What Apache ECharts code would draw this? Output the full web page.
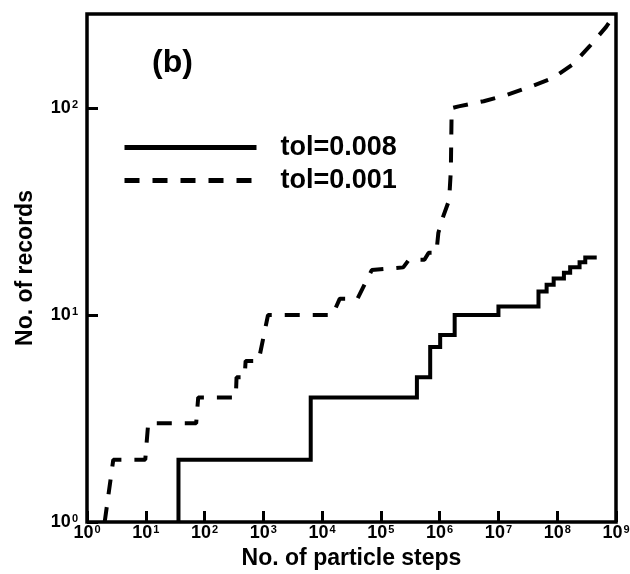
<!DOCTYPE html>
<html>
<head>
<meta charset="utf-8">
<script src="https://cdn.jsdelivr.net/npm/echarts@6/dist/echarts.min.js"></script>
<style>
html,body{margin:0;padding:0;background:#fff;}
#chart{width:630px;height:574px;}
</style>
</head>
<body>
<div id="chart"></div>
<script>
// Tick values (powers of ten)
const xTickValues = [1, 10, 100, 1e3, 1e4, 1e5, 1e6, 1e7, 1e8, 1e9];
const yTickValues = [1, 10, 100];

// Series names
const seriesNames = ['tol=0.008', 'tol=0.001'];

// tol=0.008 : record events [particle steps, no. of records] (step function)
const solidRecords = [
  [36, 1], [36, 2], [6400, 4], [4.1e5, 5], [6.9e5, 7], [1.02e6, 8], [1.8e6, 10],
  [1e7, 11], [4.8e7, 13], [6.6e7, 14], [8.7e7, 15], [1.3e8, 16], [1.66e8, 17],
  [2.4e8, 18], [3e8, 19], [4.7e8, 19]
];

// tol=0.001 : traced vertices [particle steps, no. of records]
const dashedTrace = [
  [2.0, 1], [2.8, 2], [9.8, 2], [11, 3], [72, 3], [78, 4], [340, 4], [350, 5],
  [480, 5], [500, 6], [830, 6], [1200, 10], [1.5e4, 10], [2e4, 12], [4e4, 12],
  [7e4, 16.5], [2.4e5, 17], [3e5, 18.5], [5.5e5, 18.5], [6.5e5, 20], [8.8e5, 20],
  [9.5e5, 25], [1.15e6, 30], [1.45e6, 36], [1.55e6, 50], [1.6e6, 100],
  [2.1e6, 102], [5.6e6, 108], [1.4e7, 116], [3.5e7, 127], [8.6e7, 140],
  [1.8e8, 162], [3.5e8, 198], [6.8e8, 247], [8.8e8, 275]
];

const FONT = '"Liberation Sans", Arial, Helvetica, sans-serif';
const dashPattern = [15, 13];

function powLabel(v) {
  const e = Math.round(Math.log10(v));
  return '{b|10}{s|' + e + '}';
}
const richLabel = {
  b: { fontSize: 18, fontWeight: 'bold', fontFamily: FONT, color: '#000' },
  s: { fontSize: 11, fontWeight: 'bold', fontFamily: FONT, color: '#000', verticalAlign: 'top', padding: [0, 0, 0, 1] }
};

const chart = echarts.init(document.getElementById('chart'), null, { renderer: 'canvas' });
chart.setOption({
  animation: false,
  backgroundColor: '#fff',
  title: {
    text: '(b)', left: 147, top: 42,
    textStyle: { fontSize: 32, fontWeight: 'bold', fontFamily: FONT, color: '#000' }
  },
  legend: {
    orient: 'vertical', left: 117, top: 129,
    itemWidth: 132, itemHeight: 22, itemGap: 6,
    itemStyle: { opacity: 0 },
    data: [
      { name: seriesNames[0], lineStyle: { width: 5, type: 'solid', color: '#000' } },
      { name: seriesNames[1], lineStyle: { width: 5, type: dashPattern, color: '#000' } }
    ],
    textStyle: { fontSize: 27, fontWeight: 'bold', fontFamily: FONT, color: '#000', padding: [0, 0, 0, 19] }
  },
  grid: {
    left: 87, right: 14, top: 14, bottom: 52,
    outerBoundsMode: 'none',
    show: true, borderColor: '#000', borderWidth: 3.5, backgroundColor: 'transparent'
  },
  xAxis: {
    type: 'log', logBase: 10, min: 1, max: 1e9,
    name: 'No. of particle steps', nameLocation: 'middle', nameGap: 25,
    nameTextStyle: { fontSize: 23, fontWeight: 'bold', fontFamily: FONT, color: '#000' },
    axisLine: { show: false },
    axisTick: { show: true, inside: true, length: 11, lineStyle: { color: '#000', width: 3 }, customValues: xTickValues },
    minorTick: { show: false },
    splitLine: { show: false },
    axisLabel: { margin: 2, formatter: powLabel, rich: richLabel, customValues: xTickValues, showMinLabel: true, showMaxLabel: true }
  },
  yAxis: {
    type: 'log', logBase: 10, min: 1, max: 285,
    name: 'No. of records', nameLocation: 'middle', nameGap: 50, nameRotate: 90,
    nameTextStyle: { fontSize: 23, fontWeight: 'bold', fontFamily: FONT, color: '#000' },
    axisLine: { show: false },
    axisTick: { show: true, inside: true, length: 11, lineStyle: { color: '#000', width: 3 }, customValues: yTickValues },
    minorTick: { show: false },
    splitLine: { show: false },
    axisLabel: { margin: 9, formatter: powLabel, rich: richLabel, customValues: yTickValues }
  },
  series: [
    {
      name: seriesNames[0], type: 'line', step: 'end', data: solidRecords,
      symbol: 'none', showSymbol: false, clip: true,
      lineStyle: { color: '#000', width: 4, type: 'solid', join: 'miter' },
      itemStyle: { color: '#000' }
    },
    {
      name: seriesNames[1], type: 'line', data: dashedTrace,
      symbol: 'none', showSymbol: false, clip: true,
      lineStyle: { color: '#000', width: 4, type: dashPattern },
      itemStyle: { color: '#000' }
    }
  ]
});
</script>
</body>
</html>
